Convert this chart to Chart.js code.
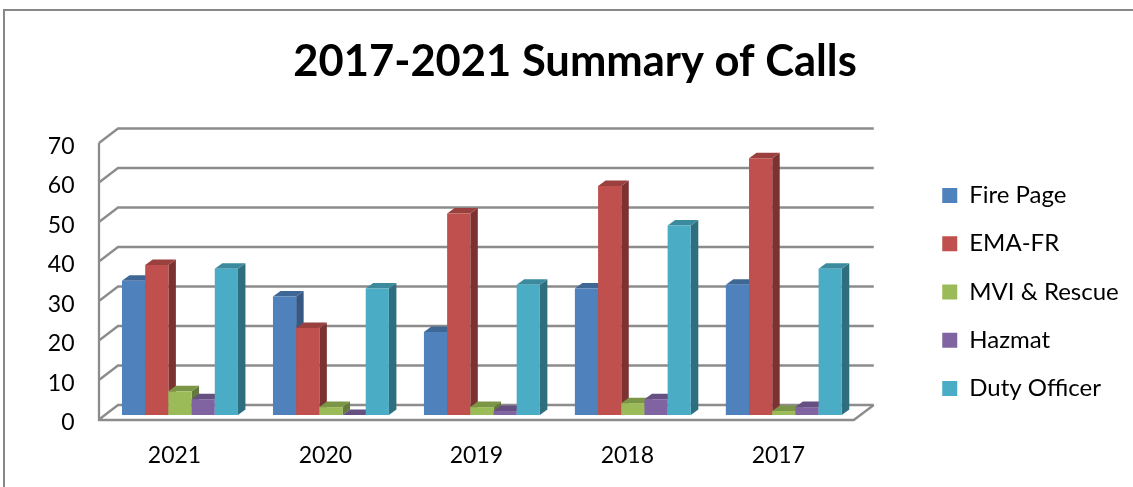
<!DOCTYPE html>
<html>
<head>
<meta charset="utf-8">
<style>
  html, body { margin: 0; padding: 0; background: #fff; }
  canvas { display: block; }
</style>
<script src="https://cdn.jsdelivr.net/npm/chart.js@4"></script>
</head>
<body>
<canvas id="calls-chart" width="1133" height="487"></canvas>
<script>
var years = ['2021', '2020', '2019', '2018', '2017'];
var firePage = [34, 30, 21, 32, 33];
var emaFr = [38, 22, 51, 58, 65];
var mviRescue = [6, 2, 2, 3, 1];
var hazmat = [4, 0, 1, 4, 2];
var dutyOfficer = [37, 32, 33, 48, 37];

// front, top face, side face
var blue = ['#4f81bd', '#3f6796', '#365882'];
var red = ['#c0504d', '#9a403e', '#7c3231'];
var green = ['#9bbb59', '#7c9647', '#647a3a'];
var purple = ['#8064a2', '#665082', '#54426b'];
var teal = ['#4bacc6', '#3c8a9e', '#2f6e7f'];

var FONT = 'Lato';
var GRID = '#8c8c8c';

function series(label, data, colors) {
    return {
        label: label,
        data: data,
        backgroundColor: colors[0],
        topColor: colors[1],
        sideColor: colors[2],
        categoryPercentage: 0.768,
        barPercentage: 1
    };
}

function quad(ctx, color, pts) {
    ctx.fillStyle = color;
    ctx.beginPath();
    ctx.moveTo(pts[0], pts[1]);
    ctx.lineTo(pts[2], pts[3]);
    ctx.lineTo(pts[4], pts[5]);
    ctx.lineTo(pts[6], pts[7]);
    ctx.closePath();
    ctx.fill();
}

// the walls and floor sit around the plane the bars stand in
function drawWalls(chart) {
    var ctx = chart.ctx;
    var x = chart.scales.x, y = chart.scales.y;
    var frontL = x.left - 5.5, frontR = x.right - 5.5;
    var backL = frontL + 19, backR = frontR + 20;

    ctx.save();
    ctx.strokeStyle = GRID;
    ctx.lineWidth = 2.3;
    ctx.beginPath();
    y.ticks.forEach(function(t) {
        var py = y.getPixelForValue(t.value);
        ctx.moveTo(frontL, py + 4.5);
        ctx.lineTo(backL, py - 10);
        ctx.lineTo(backR, py - 10);
    });
    var top = y.getPixelForValue(70), zero = y.getPixelForValue(0);
    ctx.moveTo(frontL, top + 4.5);
    ctx.lineTo(frontL, zero + 5);
    ctx.lineTo(frontR, zero + 5);
    ctx.lineTo(backR, zero - 10);
    ctx.stroke();
    ctx.restore();
}

var chart3d = {
    id: 'chart3d',
    afterLayout: function(chart) {
        // legend and title sit further right than the layout would put them
        var legend = chart.legend;
        legend.left = 918;
        legend.right = 1133;
        legend.top = 159.25;
        legend.bottom = 487;
        chart.titleBlock.left = 0;
        chart.titleBlock.right = 1150;
    },
    beforeDraw: function(chart) {
        var ctx = chart.ctx;
        ctx.fillStyle = '#878787';
        ctx.fillRect(3, 9, 1130, 2);
        ctx.fillRect(3, 9, 2, 478);
    },
    beforeDatasetsDraw: function(chart) {
        var ctx = chart.ctx;
        var dx = 7.5, dy = -5.5;
        drawWalls(chart);
        // left to right so each bar hides the side of the one before it
        chart.data.datasets.forEach(function(ds, i) {
            chart.getDatasetMeta(i).data.forEach(function(bar) {
                var l = bar.x - bar.width / 2, r = bar.x + bar.width / 2;
                quad(ctx, ds.sideColor, [r, bar.y, r + dx, bar.y + dy, r + dx, bar.base + dy, r, bar.base]);
                quad(ctx, ds.topColor, [l, bar.y, l + dx, bar.y + dy, r + dx, bar.y + dy, r, bar.y]);
                bar.draw(ctx);
            });
        });
        return false;
    }
};

var callsChart = new Chart(document.getElementById('calls-chart').getContext('2d'), {
    type: 'bar',
    data: {
        labels: years,
        datasets: [
            series('Fire Page', firePage, blue),
            series('EMA-FR', emaFr, red),
            series('MVI & Rescue', mviRescue, green),
            series('Hazmat', hazmat, purple),
            series('Duty Officer', dutyOfficer, teal)
        ]
    },
    plugins: [chart3d],
    options: {
        responsive: false,
        animation: false,
        layout: { padding: { left: 0, right: 63, top: 0, bottom: 0 } },
        plugins: {
            tooltip: { enabled: false },
            title: {
                display: true,
                text: '2017-2021 Summary of Calls',
                color: '#000',
                font: { family: FONT, size: 43.5, weight: 'bold' },
                padding: { top: 36, bottom: 50.3 }
            },
            legend: {
                position: 'right',
                align: 'start',
                labels: {
                    color: '#000',
                    font: { family: FONT, size: 24 },
                    boxWidth: 15,
                    boxHeight: 15,
                    padding: 24.25
                }
            }
        },
        scales: {
            x: {
                grid: { display: false },
                border: { display: false },
                afterFit: function(scale) { scale.height = 72; },
                ticks: {
                    color: '#000',
                    font: { family: FONT, size: 23 },
                    padding: 19,
                    labelOffset: -5.5,
                    maxRotation: 0
                }
            },
            y: {
                min: 0,
                max: 70,
                grid: { display: false },
                border: { display: false },
                afterFit: function(scale) { scale.width = 104.5; },
                ticks: {
                    stepSize: 10,
                    color: '#000',
                    font: { family: FONT, size: 23 },
                    padding: 22,
                    labelOffset: 8
                }
            }
        }
    }
});
</script>
</body>
</html>
